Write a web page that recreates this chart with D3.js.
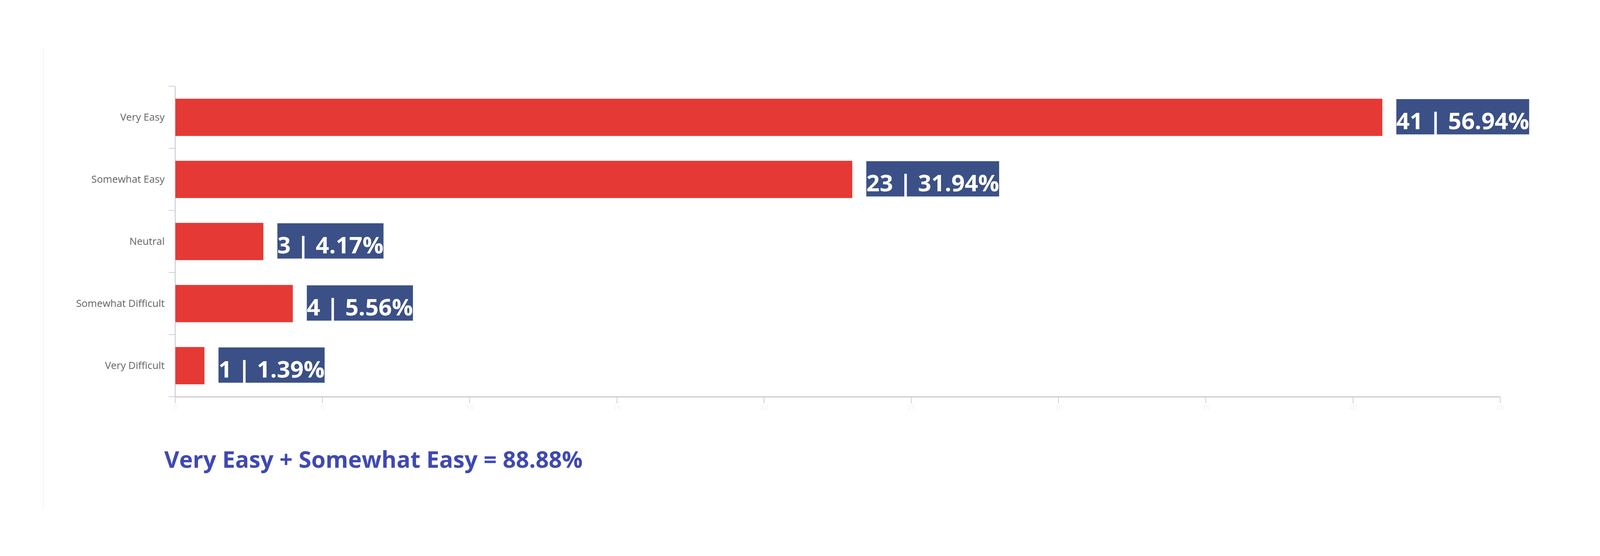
<html>
<head>
    <meta charset="utf-8">
    <title>Ease rating</title>
    <style>
        html, body {margin: 0; padding: 0; background: #fff; overflow: hidden;}
        svg {display: block; width: 100vw; height: 100vh;}
    </style>
</head>
<body>
    <svg></svg>
    <script src="https://d3js.org/d3.v7.min.js"></script>
    <script type="text/javascript">
    let width = 4452;
    let height = 1424;

    // data
    const categories = ["Very Easy", "Somewhat Easy", "Neutral", "Somewhat Difficult", "Very Difficult"];
    const counts = [41, 23, 3, 4, 1];
    const percents = ["56.94%", "31.94%", "4.17%", "5.56%", "1.39%"];
    const xTicks = [0, 5, 10, 15, 20, 25, 30, 35, 40, 45];
    const footnote = "Very Easy + Somewhat Easy = 88.88%";

    // drawn in a 4452x1424 space stretched over the viewport;
    // k undoes the stretch on the texts so the glyphs keep their shape
    let svg = d3.select("svg")
        .attr("viewBox", "0 0 " + width + " " + height)
        .attr("preserveAspectRatio", "none");
    let sx = window.innerWidth / width;
    let sy = window.innerHeight / height;
    let k = sx / sy;
    let unstretch = "scale(1," + k + ")";

    // faint panel border on the left
    svg.append("line")
        .attr("x1", 121).attr("x2", 121)
        .attr("y1", 120).attr("y2", 1303)
        .attr("stroke", "#f1f1f1")
        .attr("stroke-width", 2);

    let x = d3.scaleLinear()
        .domain([0, 45])
        .range([487, 4174]);

    let y = d3.scaleBand()
        .domain(categories)
        .range([221, 1016])
        .paddingInner(0.4)
        .paddingOuter(0.2);

    // x axis (bottom)
    let xAxis = svg.append("g")
        .attr("transform", "translate(0,1016)")
        .call(d3.axisBottom(x).tickValues(xTicks).tickSize(17).tickSizeOuter(0).tickPadding(6));
    xAxis.select(".domain").attr("stroke", "#cccccc").attr("stroke-width", 3);
    xAxis.selectAll(".tick line").attr("stroke", "#cccccc").attr("stroke-width", 2);
    xAxis.selectAll(".tick text")
        .attr("fill", "#f3f3f3")
        .attr("transform", unstretch)
        .style("font-family", "Open Sans")
        .style("font-size", "20px");

    // y axis: labels at band centres, tick marks at band boundaries
    let yAxis = svg.append("g")
        .attr("transform", "translate(487,0)")
        .call(d3.axisLeft(y).tickSize(0).tickPadding(29));
    yAxis.select(".domain").attr("stroke", "#ccd2dc").attr("stroke-width", 3);
    yAxis.selectAll(".tick text")
        .attr("fill", "#666666")
        .attr("transform", unstretch)
        .style("font-family", "Open Sans")
        .style("font-size", "28px");

    let half = y.paddingInner() * y.step() / 2;
    let bounds = categories.map(c => y(c) - half)
        .concat([y(categories[categories.length - 1]) + y.bandwidth() + half]);
    svg.append("g")
        .selectAll("line")
        .data(bounds)
        .join("line")
        .attr("x1", 469).attr("x2", 487)
        .attr("y1", d => d).attr("y2", d => d)
        .attr("stroke", "#ccd2dc")
        .attr("stroke-width", 2);

    // bars
    svg.append("g")
        .selectAll("rect")
        .data(categories)
        .join("rect")
        .attr("x", x(0) + 1)
        .attr("y", d => y(d))
        .attr("width", (d, i) => x(counts[i]) - x(0) - 1)
        .attr("height", y.bandwidth())
        .attr("fill", "#e53935");

    // value labels in navy boxes
    let labels = svg.append("g")
        .selectAll("g")
        .data(categories)
        .join("g")
        .attr("transform", (d, i) => "translate(" + (x(counts[i]) + 39) + "," + y(d) + ")");

    let boxes = labels.append("rect")
        .attr("y", 1)
        .attr("height", y.bandwidth() - 5)
        .attr("fill", "#3b5086");

    let texts = labels.append("text")
        .attr("transform", "translate(0,78) " + unstretch)
        .attr("fill", "#ffffff")
        .style("font-family", "Open Sans")
        .style("font-weight", "bold")
        .style("font-size", "65px")
        .text((d, i) => counts[i] + " | " + percents[i]);

    texts.each(function(d, i) {
        let w = this.getComputedTextLength();
        d3.select(boxes.nodes()[i]).attr("width", w);
    });

    // footnote
    svg.append("text")
        .attr("transform", "translate(457,1198) " + unstretch)
        .attr("fill", "#3f49b3")
        .style("font-family", "Open Sans")
        .style("font-weight", "bold")
        .style("font-size", "64px")
        .text(footnote);
    </script>
</body>
</html>
